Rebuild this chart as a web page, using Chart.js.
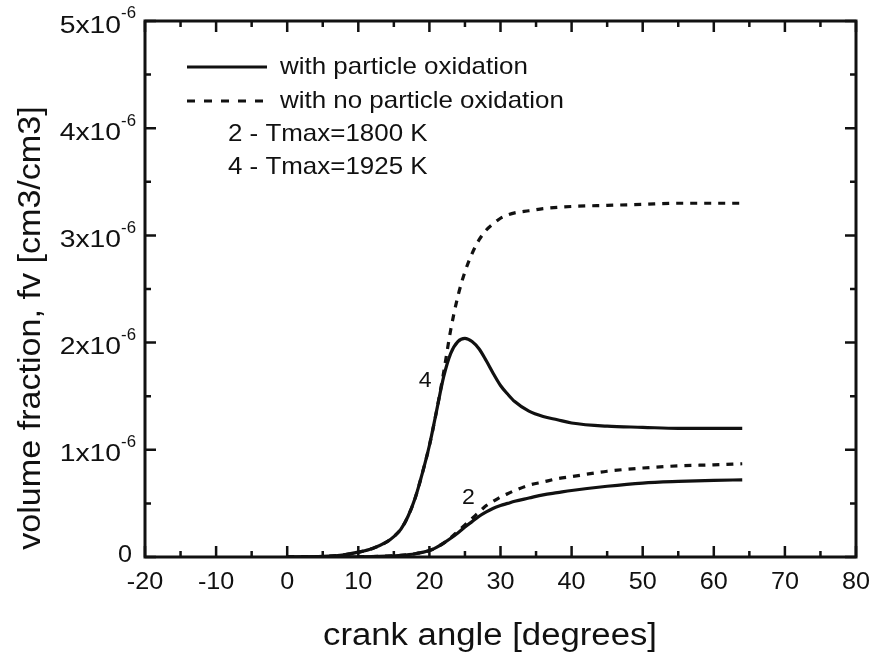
<!DOCTYPE html>
<html><head><meta charset="utf-8">
<script src="https://cdn.jsdelivr.net/npm/chart.js@4/dist/chart.umd.min.js"></script>
<style>html,body{margin:0;padding:0;background:#fff;}#wrap{width:876px;height:658px;}</style>
</head><body><div id="wrap"><canvas id="c" width="876" height="658"></canvas></div>
<script>
// ---- data (volume fraction values in units of 1e-6 cm3/cm3) ----
const xTicks = [-20,-10,0,10,20,30,40,50,60,70,80];
const yTicks = [0,1,2,3,4,5];
const yTickMantissa = ['0','1x10','2x10','3x10','4x10','5x10'];
const yTickExponent = '-6';

const angleT4 = [0,5,8,10,12,14,15,16,17,18,19,20,21,22,23,24,25,26,27,28,29,30,31,32,34,36,38,40,45,50,55,60,64];
const withOxT4 = [0,0.005,0.02,0.045,0.08,0.14,0.19,0.26,0.38,0.55,0.78,1.04,1.36,1.68,1.90,2.01,2.04,2.01,1.94,1.83,1.71,1.60,1.52,1.45,1.36,1.31,1.28,1.25,1.22,1.21,1.20,1.20,1.20];

const angleT4n = [0,5,8,10,12,14,15,16,17,18,19,20,21,22,23,24,25,26,27,28,29,30,31,32,34,36,40,45,50,55,60,64];
const noOxT4 = [0,0.005,0.02,0.045,0.08,0.14,0.19,0.26,0.38,0.55,0.78,1.04,1.36,1.72,2.12,2.43,2.66,2.83,2.96,3.05,3.11,3.16,3.19,3.21,3.23,3.25,3.27,3.28,3.29,3.30,3.30,3.30];

const angleT2 = [0,10,14,16,18,20,21,22,23,24,25,26,27,28,29,30,31,32,34,36,38,40,45,50,55,60,64];
const withOxT2 = [0,0.002,0.008,0.015,0.03,0.06,0.09,0.13,0.175,0.225,0.28,0.33,0.38,0.42,0.455,0.48,0.50,0.52,0.55,0.58,0.60,0.62,0.66,0.69,0.705,0.715,0.72];

const angleT2n = [0,10,14,16,18,20,21,22,23,24,25,26,27,28,29,30,31,32,34,36,38,40,45,50,55,60,64];
const noOxT2 = [0,0.002,0.008,0.015,0.03,0.06,0.09,0.13,0.18,0.24,0.30,0.36,0.42,0.48,0.52,0.56,0.59,0.62,0.67,0.70,0.73,0.75,0.80,0.83,0.85,0.86,0.87];

const xTitle = 'crank angle [degrees]';
const yTitle = 'volume fraction, fv [cm3/cm3]';
const legendSolid = 'with particle oxidation';
const legendDashed = 'with no particle oxidation';
const legendNotes = ['2 - Tmax=1800 K','4 - Tmax=1925 K'];
const curveLabels = [{t:'4', x:19.4, y:1.64},{t:'2', x:25.5, y:0.55}];

const pts = (xs, ys) => xs.map((x,i)=>({x, y: ys[i]}));
const FONT = '"Liberation Sans", Arial, Helvetica, sans-serif';
const INK = '#111';

function txt(ctx, s, x, y, size, align, sx, base) {
  ctx.save();
  ctx.font = size + 'px ' + FONT;
  ctx.textAlign = align; ctx.textBaseline = base || 'middle';
  ctx.translate(x, y); ctx.scale(sx, 1);
  ctx.fillText(s, 0, 0);
  ctx.restore();
}

const decor = {
  id: 'decor',
  afterDatasetsDraw(chart) {
    const {ctx, chartArea: a, scales: {x, y}} = chart;
    ctx.save();
    ctx.strokeStyle = INK; ctx.fillStyle = INK;
    // frame
    ctx.lineWidth = 3;
    ctx.strokeRect(a.left, a.top, a.right - a.left, a.bottom - a.top);
    // ticks (inward, all four sides)
    ctx.lineWidth = 2.5;
    for (let v = -20; v <= 80; v += 5) {
      const px = x.getPixelForValue(v);
      const L = (v % 10 === 0) ? 11 : 6;
      ctx.beginPath();
      ctx.moveTo(px, a.bottom); ctx.lineTo(px, a.bottom - L);
      ctx.moveTo(px, a.top); ctx.lineTo(px, a.top + L);
      ctx.stroke();
    }
    for (let v = 0; v <= 5; v += 0.5) {
      const py = y.getPixelForValue(v);
      const L = (Number.isInteger(v)) ? 11 : 6;
      ctx.beginPath();
      ctx.moveTo(a.left, py); ctx.lineTo(a.left + L, py);
      ctx.moveTo(a.right, py); ctx.lineTo(a.right - L, py);
      ctx.stroke();
    }
    // x tick labels
    xTicks.forEach(v => txt(ctx, String(v), x.getPixelForValue(v), a.bottom + 25, 24, 'center', 1.05));
    // y tick labels with superscript exponent
    yTicks.forEach((v, i) => {
      const py = y.getPixelForValue(v);
      if (v === 0) {
        txt(ctx, yTickMantissa[i], a.left - 13, py - 2, 24, 'right', 1.05);
        return;
      }
      const right = a.left - 9;
      ctx.font = '16px ' + FONT;
      const ew = ctx.measureText(yTickExponent).width * 1.05;
      txt(ctx, yTickExponent, right, py - 7, 16, 'right', 1.05);
      txt(ctx, yTickMantissa[i], right - ew, py + 5, 24, 'right', 1.18);
    });
    // axis titles
    txt(ctx, xTitle, 490, 636, 31, 'center', 1.12);
    ctx.save();
    ctx.translate(31, 328); ctx.rotate(-Math.PI / 2);
    txt(ctx, yTitle, 0, 0, 31, 'center', 1.1);
    ctx.restore();
    // legend
    ctx.lineWidth = 3;
    ctx.beginPath(); ctx.moveTo(187, 67); ctx.lineTo(267, 67); ctx.stroke();
    ctx.setLineDash([8, 9]);
    ctx.beginPath(); ctx.moveTo(187, 101); ctx.lineTo(267, 101); ctx.stroke();
    ctx.setLineDash([]);
    txt(ctx, legendSolid, 280, 67, 24, 'left', 1.08);
    txt(ctx, legendDashed, 280, 101, 24, 'left', 1.08);
    txt(ctx, legendNotes[0], 228, 134, 24, 'left', 1.08);
    txt(ctx, legendNotes[1], 228, 167, 24, 'left', 1.08);
    // curve labels
    curveLabels.forEach(c => txt(ctx, c.t, x.getPixelForValue(c.x), y.getPixelForValue(c.y), 22, 'center', 1.05));
    ctx.restore();
  }
};

const common = {borderColor: INK, borderWidth: 3.2, pointRadius: 0, fill: false, cubicInterpolationMode: 'monotone'};
new Chart(document.getElementById('c'), {
  type: 'line',
  data: {
    datasets: [
      {...common, label: 'with particle oxidation, Tmax=1925 K', data: pts(angleT4, withOxT4)},
      {...common, label: 'with no particle oxidation, Tmax=1925 K', data: pts(angleT4n, noOxT4), borderDash: [7, 7]},
      {...common, label: 'with particle oxidation, Tmax=1800 K', data: pts(angleT2, withOxT2)},
      {...common, label: 'with no particle oxidation, Tmax=1800 K', data: pts(angleT2n, noOxT2), borderDash: [7, 7]}
    ]
  },
  options: {
    responsive: false, animation: false,
    layout: {padding: {left: 145, right: 20, top: 21, bottom: 101}},
    scales: {
      x: {type: 'linear', min: -20, max: 80, display: false},
      y: {min: 0, max: 5, display: false}
    },
    plugins: {legend: {display: false}, tooltip: {enabled: false}}
  },
  plugins: [decor]
});
</script></body></html>
